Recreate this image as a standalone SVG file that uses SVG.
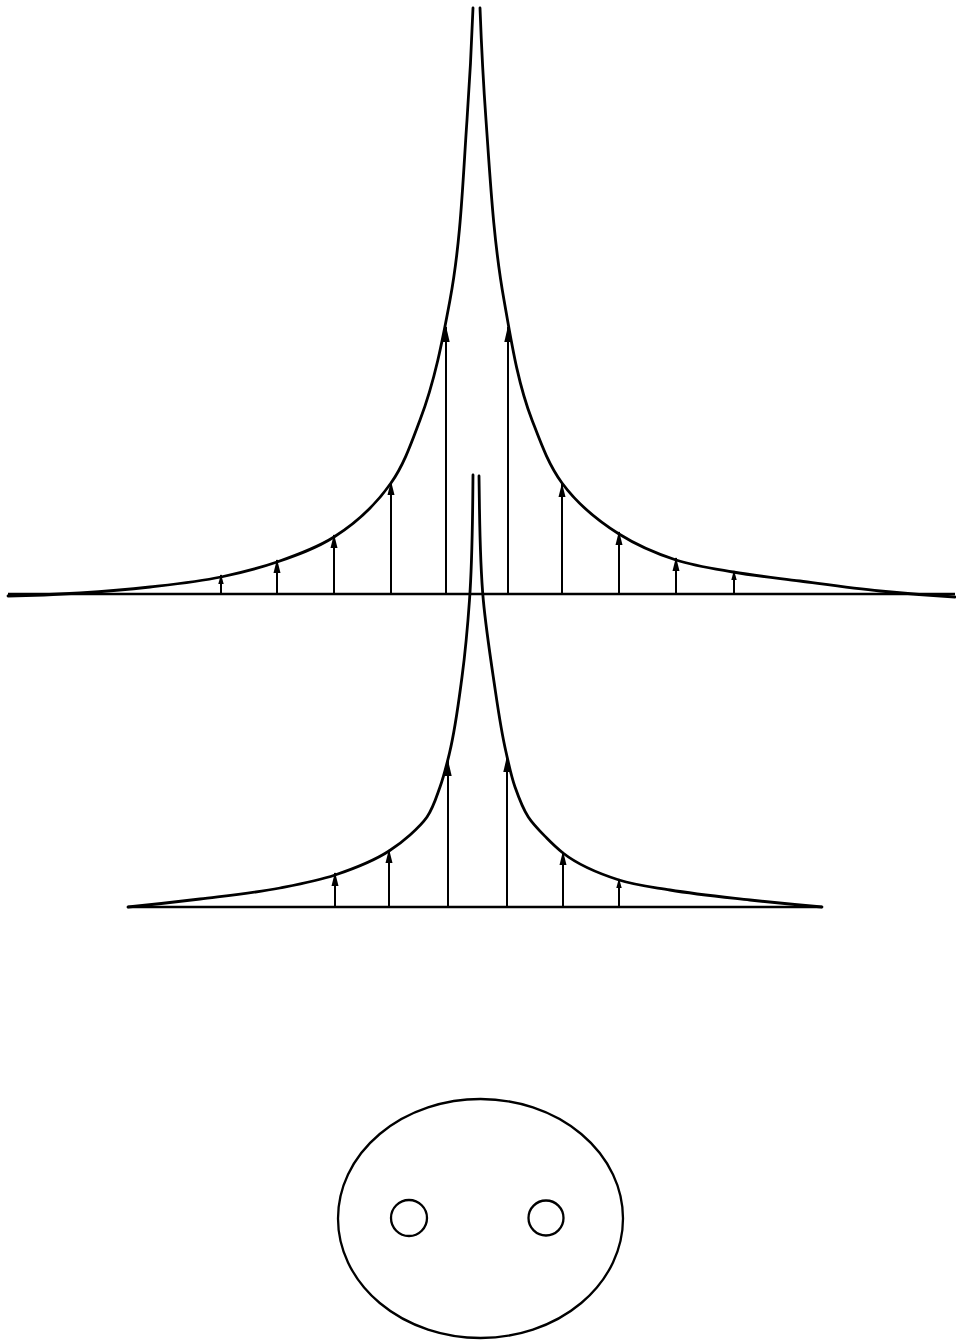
<svg xmlns="http://www.w3.org/2000/svg" width="956" height="1342" viewBox="0 0 956 1342">
<defs>
<style>
.curve{fill:none;stroke:#000;stroke-width:2.8;stroke-linecap:round;stroke-linejoin:round}
.base{fill:none;stroke:#000;stroke-width:2.4}
.arr{stroke:#000;stroke-width:2;fill:none}
.big{marker-end:url(#hb)}
.mid{marker-end:url(#hm)}
.sm{marker-end:url(#hs)}
.ring{fill:none;stroke:#000;stroke-width:2.3}
</style>
<marker id="hb" markerUnits="userSpaceOnUse" viewBox="0 0 16 8" refX="15" refY="4" markerWidth="16" markerHeight="8" orient="auto"><path d="M0,0.3 L16,4 L0,7.7 z" fill="#000"/></marker>
<marker id="hm" markerUnits="userSpaceOnUse" viewBox="0 0 14 8" refX="13" refY="4" markerWidth="14" markerHeight="8" orient="auto"><path d="M0,0.5 L14,4 L0,7.5 z" fill="#000"/></marker>
<marker id="hs" markerUnits="userSpaceOnUse" viewBox="0 0 10 6" refX="9" refY="3" markerWidth="10" markerHeight="6" orient="auto"><path d="M0,0.3 L10,3 L0,5.7 z" fill="#000"/></marker>
</defs>
<rect width="956" height="1342" fill="#fff"/>

<g id="top-figure">
<line class="base" x1="8" y1="594" x2="955" y2="594"/>
<path class="curve" d="M473,8 C471.6,45.4 469.6,82.7 467,120 C462.8,180.2 461,240.7 450,300 C442.5,340.5 434.7,381.5 420,420 C411.8,441.6 404.3,464.1 391,483 C376,504.5 356.1,523 334,537 C316.5,548.1 296.5,555.2 277,562 C258.8,568.3 239.9,573 221,577 C197.6,581.9 173.8,584.3 150,587 C126.7,589.6 103.4,591.5 80,593 C56,594.5 32,595.5 8,596"/>
<path class="curve" d="M480,8 C481.4,45.4 483.3,82.7 486,120 C490.3,180.1 493.4,240.6 504,300 C511.2,340.5 517.3,381.6 532,420 C540.4,441.8 548.2,464.2 562,483 C577.1,503.6 597.4,520.4 619,534 C636.7,545.2 656.1,553.5 676,560 C694.5,566 713.9,568.7 733,572 C755.2,575.9 777.7,578.1 800,581 C826.7,584.5 853.2,588.3 880,591 C905,593.5 929.9,595.5 955,597"/>
</g>

<g id="bottom-figure">
<line class="base" x1="128" y1="907" x2="822" y2="907"/>
<path class="curve" d="M473,475 C472.6,516.7 472.5,558.4 469.5,600 C467.7,625.7 465.4,651.4 462,677 C458.6,702.5 455.5,728 449.5,753 C446.7,764.5 444,775.9 440,787 C436.3,797.3 433.2,808.1 427,817 C422.3,823.8 416.2,829.4 410,835 C403.5,840.9 396.4,846.2 389,851 C372.5,861.8 353.7,868.7 335,875 C317.2,881 298.5,884.4 280,888 C253.6,893.1 226.7,895.7 200,899 C176.1,901.9 152,904.6 128,907"/>
<path class="curve" d="M479,476 C479.7,517.4 479.5,558.8 483.3,600 C485.7,625.8 489.5,651.4 493.3,677 C497.1,702.1 500.3,727.2 506,752 C508.7,763.7 511,775.7 515,787 C518.6,797.3 522.3,807.9 528.3,817 C533.4,824.8 540.2,831.4 546.7,838 C551.9,843.3 557.2,848.4 563,853 C579.3,865.8 599.3,873.7 619,880 C635.5,885.3 652.9,887.1 670,890 C696.5,894.4 723.3,897 750,900 C774,902.6 798,904.9 822,907"/>
</g>

<g id="connectors">
<line class="arr sm" x1="221" y1="594" x2="221" y2="575"/>
<line class="arr mid" x1="277" y1="594" x2="277" y2="560"/>
<line class="arr mid" x1="334" y1="594" x2="334" y2="535"/>
<line class="arr mid" x1="391" y1="594" x2="391" y2="482"/>
<line class="arr big" x1="446" y1="594" x2="446" y2="327"/>
<line class="arr big" x1="508" y1="594" x2="508" y2="327"/>
<line class="arr mid" x1="562" y1="594" x2="562" y2="484"/>
<line class="arr mid" x1="619" y1="594" x2="619" y2="532"/>
<line class="arr mid" x1="676" y1="594" x2="676" y2="558"/>
<line class="arr sm" x1="734" y1="594" x2="734" y2="571"/>

<line class="arr mid" x1="335" y1="907" x2="335" y2="873"/>
<line class="arr mid" x1="389" y1="907" x2="389" y2="850"/>
<line class="arr big" x1="448" y1="907" x2="448" y2="761"/>
<line class="arr big" x1="507" y1="907" x2="507" y2="757"/>
<line class="arr mid" x1="563" y1="907" x2="563" y2="852"/>
<line class="arr sm" x1="619" y1="907" x2="619" y2="879"/>
</g>

<g id="cross-section">
<ellipse class="ring" cx="480.5" cy="1218.5" rx="142.5" ry="119.5"/>
<circle class="ring" cx="409" cy="1218" r="18"/>
<circle class="ring" cx="546" cy="1218" r="17.5"/>
</g>
</svg>
